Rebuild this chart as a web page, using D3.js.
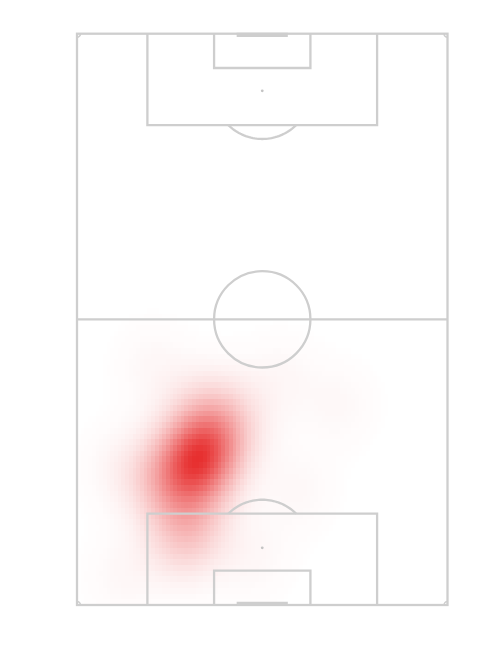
<!DOCTYPE html>
<html>
<head>
<meta charset="utf-8">
<script src="https://cdn.jsdelivr.net/npm/d3@7"></script>
<style>
  html, body { margin: 0; padding: 0; background: #ffffff; }
  svg { display: block; }
</style>
</head>
<body>
<script>
// ---- Data: event locations (Wyscout coordinates, 0-100 along length / width) ----
const eventX = [25,26,24,27,23,28,25,26,22,27,29,23,25,28,
                32,34,36,31,33,
                21,19,23,20,
                14,12,10,13,11,
                35,20,42,5,40,8,24];
const eventY = [33,31,35,36,30,32,37,28,34,33,35,27,30,38,
                38,42,32,44,36,
                22,25,19,28,
                30,31,28,34,26,
                71,60,20,12,55,48,11];

// Pitch markings (Wyscout dimensions)
const pitchLength = [0, 100];
const pitchWidth = [0, 100];
const penaltyBox = { depth: 16, y0: 19, y1: 81 };
const goalArea = { depth: 6, y0: 37, y1: 63 };
const goalPosts = [43.1, 56.9];
const penaltySpot = 10;
const circleRadiusW = 13;   // in width units
const gridBins = 100;
const bandwidthLength = 5.4;
const bandwidthWidth = 7.2;

(function () {
const W = 500, H = 650;
const svg = d3.select("body").append("svg").attr("width", W).attr("height", H);
svg.append("rect").attr("width", W).attr("height", H).attr("fill", "#ffffff");

const pLeft = 77, pRight = 447.5, pTop = 33.7, pBottom = 605;
const sx = d3.scaleLinear().domain(pitchWidth).range([pLeft, pRight]);
const sy = d3.scaleLinear().domain(pitchLength).range([pBottom, pTop]);

// ---- Heatmap: gaussian kernel density on a 100x100 grid ----
const cells = [];
let maxD = 0;
for (let i = 0; i < gridBins; i++) {
  for (let j = 0; j < gridBins; j++) {
    const cx = i + 0.5, cy = j + 0.5;
    let d = 0;
    for (let k = 0; k < eventX.length; k++) {
      const dx = (cx - eventX[k]) / bandwidthLength, dy = (cy - eventY[k]) / bandwidthWidth;
      d += Math.exp(-(dx * dx + dy * dy) / 2);
    }
    cells.push({ i, j, d });
    if (d > maxD) maxD = d;
  }
}
const alpha = d3.scalePow().exponent(1.3).domain([0, maxD]).range([0, 0.97]);

svg.append("g")
  .attr("shape-rendering", "crispEdges")
  .selectAll("rect")
  .data(cells.filter(c => alpha(c.d) > 0.004))
  .join("rect")
  .attr("x", c => sx(c.j))
  .attr("y", c => sy(c.i + 1))
  .attr("width", c => sx(c.j + 1) - sx(c.j))
  .attr("height", c => sy(c.i) - sy(c.i + 1))
  .attr("fill", "rgb(230,40,40)")
  .attr("fill-opacity", c => alpha(c.d));

// ---- Pitch lines ----
const lineColor = "#cecece";
const g = svg.append("g").attr("fill", "none").attr("stroke", lineColor).attr("stroke-width", 2.3);

g.append("rect").attr("x", sx(0)).attr("y", sy(100))
  .attr("width", sx(100) - sx(0)).attr("height", sy(0) - sy(100));
g.append("line").attr("x1", sx(0)).attr("x2", sx(100)).attr("y1", sy(50)).attr("y2", sy(50));

const rPx = sx(circleRadiusW) - sx(0);
g.append("circle").attr("cx", sx(50)).attr("cy", sy(50)).attr("r", rPx);

[0, 100].forEach(end => {
  const dir = end === 0 ? 1 : -1;
  const pbX = end + dir * penaltyBox.depth;
  const gaX = end + dir * goalArea.depth;
  g.append("path").attr("d",
    `M${sx(penaltyBox.y0)},${sy(end)} L${sx(penaltyBox.y0)},${sy(pbX)} L${sx(penaltyBox.y1)},${sy(pbX)} L${sx(penaltyBox.y1)},${sy(end)}`);
  g.append("path").attr("d",
    `M${sx(goalArea.y0)},${sy(end)} L${sx(goalArea.y0)},${sy(gaX)} L${sx(goalArea.y1)},${sy(gaX)} L${sx(goalArea.y1)},${sy(end)}`);
  const spY = sy(end + dir * penaltySpot);
  svg.append("circle").attr("cx", sx(50)).attr("cy", spY).attr("r", 1.4).attr("fill", "#c4c4c4");
  const boxY = sy(pbX);
  const dist = Math.abs(boxY - spY);
  const ang = Math.acos(dist / rPx);
  const sgn = end === 0 ? -1 : 1;
  const a0 = -ang, a1 = ang;
  const arcPts = d3.range(a0, a1 + 1e-6, (a1 - a0) / 40).map(a =>
    [sx(50) + rPx * Math.sin(a), spY + sgn * rPx * Math.cos(a)]);
  g.append("path").attr("d", d3.line()(arcPts));
  const gy = sy(end) - dir * 1.2;
  svg.append("line").attr("x1", sx(goalPosts[0])).attr("x2", sx(goalPosts[1]))
    .attr("y1", gy).attr("y2", gy).attr("stroke", lineColor).attr("stroke-width", 4.3);
});

const cr = 3.5;
[[0, 0], [0, 100], [100, 0], [100, 100]].forEach(([lx, wy]) => {
  const px = sx(wy), py = sy(lx);
  const hx = wy === 0 ? 1 : -1, vy = lx === 0 ? -1 : 1;
  g.append("path").attr("d",
    `M${px + hx * cr},${py} A${cr},${cr} 0 0 ${hx * vy > 0 ? 1 : 0} ${px},${py + vy * cr}`)
    .attr("stroke-width", 1.5);
});
})();
</script>
</body>
</html>
